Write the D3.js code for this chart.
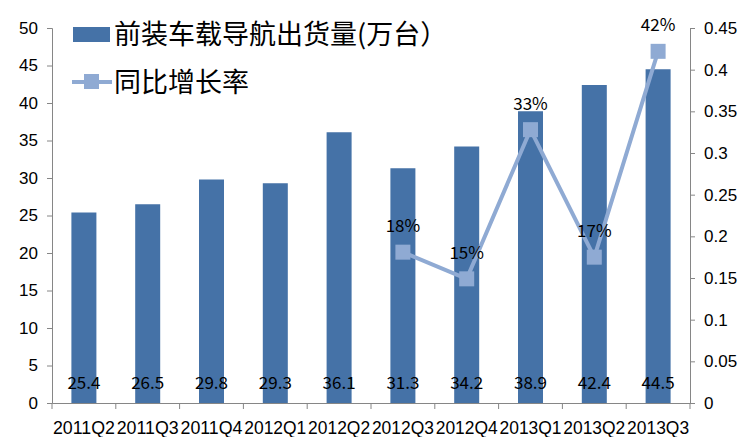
<!DOCTYPE html>
<html>
<head>
<meta charset="UTF-8">
<script src="https://cdn.jsdelivr.net/npm/d3@7"></script>
<style>
  body { margin: 0; background: #fff; }
  text { font-family: "Liberation Sans Narrow", "Noto Sans CJK SC", sans-serif; }
</style>
</head>
<body>
<svg width="748" height="437"></svg>
<script>
  // 数据
  var quarters = ["2011Q2","2011Q3","2011Q4","2012Q1","2012Q2","2012Q3","2012Q4","2013Q1","2013Q2","2013Q3"];
  var shipments = [25.4, 26.5, 29.8, 29.3, 36.1, 31.3, 34.2, 38.9, 42.4, 44.5];
  var growthQuarters = ["2012Q3","2012Q4","2013Q1","2013Q2","2013Q3"];
  var growth = [0.181, 0.149, 0.328, 0.175, 0.422];
  var growthLabels = ["18%","15%","33%","17%","42%"];
  var leftTicks = d3.range(0, 51, 5);
  var rightTicks = [0,0.05,0.1,0.15,0.2,0.25,0.3,0.35,0.4,0.45];

  var svg = d3.select("svg");
  var marge = {top:28, bottom:34, left:52, right:58};
  var width = 748 - marge.left - marge.right;
  var height = 437 - marge.top - marge.bottom;
  var g = svg.append("g").attr("transform","translate("+marge.left+","+marge.top+")");

  var barColor = "#4572a7", lineColor = "#8faad3", axisColor = "#868686";

  var x = d3.scaleBand().domain(quarters).range([0,width]);
  var yL = d3.scaleLinear().domain([0,50]).range([height,0]);
  var yR = d3.scaleLinear().domain([0,0.45]).range([height,0]);

  // 柱
  var barW = 25;
  g.selectAll(".bar").data(shipments).enter().append("rect")
    .attr("x", function(d,i){ return x(quarters[i]) + x.bandwidth()/2 - barW/2; })
    .attr("y", function(d){ return yL(d); })
    .attr("width", barW)
    .attr("height", function(d){ return height - yL(d); })
    .attr("fill", barColor);

  g.selectAll(".barText").data(shipments).enter().append("text")
    .attr("x", function(d,i){ return x(quarters[i]) + x.bandwidth()/2; })
    .attr("y", yL(0) - 14)
    .attr("text-anchor","middle")
    .style("font-size","17px")
    .text(function(d){ return d.toFixed(1); });

  // 坐标轴
  var axisL = g.append("g").call(d3.axisLeft(yL).tickValues(leftTicks).tickSize(5).tickPadding(9));
  var axisR = g.append("g").attr("transform","translate("+width+",0)")
    .call(d3.axisRight(yR).tickValues(rightTicks).tickSize(5).tickPadding(9).tickFormat(function(d){ return String(+d.toFixed(2)); }));
  var axisB = g.append("g").attr("transform","translate(0,"+height+")")
    .call(d3.axisBottom(x).tickSize(0).tickPadding(18));
  // 分类间刻度
  g.append("g").selectAll("line").data(d3.range(quarters.length+1)).enter().append("line")
    .attr("x1", function(i){ return i*x.step(); })
    .attr("x2", function(i){ return i*x.step(); })
    .attr("y1", height).attr("y2", height+6)
    .attr("stroke", axisColor);

  [axisL, axisR, axisB].forEach(function(a){
    a.selectAll("path, line").attr("stroke", axisColor);
    a.selectAll("text").attr("fill","#000").style("font-size","17px")
      .style("font-family","'Liberation Sans Narrow', sans-serif");
  });
  axisB.selectAll("text").style("font-size","18px")
    .attr("textLength", 62).attr("lengthAdjust","spacingAndGlyphs");

  // 折线
  var line = d3.line()
    .x(function(d,i){ return x(growthQuarters[i]) + x.bandwidth()/2; })
    .y(function(d){ return yR(d); });
  g.append("path").datum(growth)
    .attr("d", line).attr("fill","none")
    .attr("stroke", lineColor).attr("stroke-width", 4);
  g.selectAll(".mk").data(growth).enter().append("rect")
    .attr("x", function(d,i){ return x(growthQuarters[i]) + x.bandwidth()/2 - 7.5; })
    .attr("y", function(d){ return yR(d) - 7.5; })
    .attr("width", 15).attr("height", 15)
    .attr("fill", lineColor);
  g.selectAll(".lt").data(growth).enter().append("text")
    .attr("x", function(d,i){ return x(growthQuarters[i]) + x.bandwidth()/2; })
    .attr("y", function(d){ return yR(d) - 20; })
    .attr("text-anchor","middle")
    .style("font-size","17px")
    .text(function(d,i){ return growthLabels[i]; });

  // 图例
  var lg = svg.append("g");
  lg.append("rect").attr("x",73).attr("y",27).attr("width",37).attr("height",15).attr("fill",barColor);
  lg.append("text").attr("x",114).attr("y",44)
    .style("font-family","'Noto Sans CJK SC', sans-serif").style("font-size","27px")
    .text("前装车载导航出货量(万台）");
  lg.append("line").attr("x1",72).attr("x2",112).attr("y1",82).attr("y2",82)
    .attr("stroke",lineColor).attr("stroke-width",4);
  lg.append("rect").attr("x",84).attr("y",74).attr("width",15).attr("height",15).attr("fill",lineColor);
  lg.append("text").attr("x",114).attr("y",92)
    .style("font-family","'Noto Sans CJK SC', sans-serif").style("font-size","27px")
    .text("同比增长率");
</script>
</body>
</html>
